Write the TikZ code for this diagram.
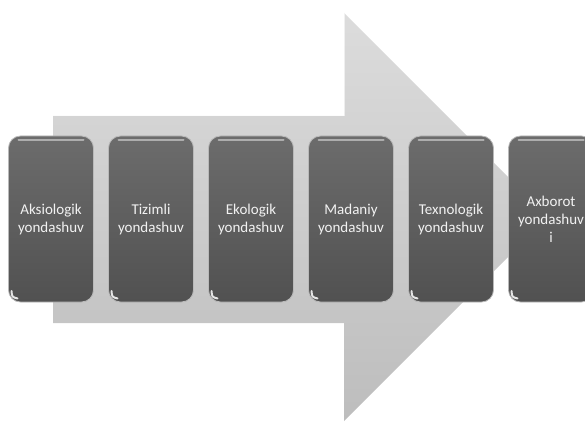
\documentclass[tikz,border=0pt]{standalone}
\usepackage{fontspec}
\setmainfont{Carlito}
\definecolor{arrowtop}{HTML}{DCDCDC}
\definecolor{arrowbot}{HTML}{BDBDBD}
\definecolor{boxtop}{HTML}{6C6C6C}
\definecolor{boxbot}{HTML}{515151}
\begin{document}
\begin{tikzpicture}
		[x=1pt,y=-1pt,
		 step box/.style= {rectangle,rounded corners=12pt,minimum width=85pt,minimum height=166pt,
		   top color=boxtop,bottom color=boxbot,draw=gray!55,line width=0.8pt,
		   text=white!95!black,align=center,font=\fontsize{15}{18}\selectfont,
		   path picture={
		     \draw[white,opacity=.45,line width=2pt,line cap=round]
		       ([xshift=10pt,yshift=-4pt]path picture bounding box.north west) --
		       ([xshift=-10pt,yshift=-4pt]path picture bounding box.north east);
		     \draw[white,opacity=.85,line width=2pt,line cap=round]
		       ([xshift=3pt,yshift=11pt]path picture bounding box.south west) ..
		       controls ([xshift=3.5pt,yshift=5pt]path picture bounding box.south west) ..
		       ([xshift=9pt,yshift=3.5pt]path picture bounding box.south west);
		   }}]
		
		\clip (0,0) rectangle (585,422);
		
		% big background arrow
		\shade[top color=arrowtop,bottom color=arrowbot]
			(53,116) -- (344,116) -- (344,13) -- (548,217) -- (344,421) -- (344,323) -- (53,323) -- cycle;
		\draw[white,opacity=.6,line width=1pt] (53,116) -- (344,116) -- (344,13);
		
		\node[step box] (aksio) at ( 51,219) {Aksiologik\\yondashuv};
		\node[step box] (tizim) at (151,219) {Tizimli\\yondashuv};
		\node[step box] (ekolog) at (251,219) {Ekologik\\yondashuv};
		\node[step box] (madan) at (351,219) {Madaniy\\yondashuv};
		\node[step box] (texno) at (451,219) {Texnologik\\yondashuv};
		\node[step box] (axbor) at (551,219) {Axborot\\yondashuv\\i};
		
	\end{tikzpicture}
\end{document}
